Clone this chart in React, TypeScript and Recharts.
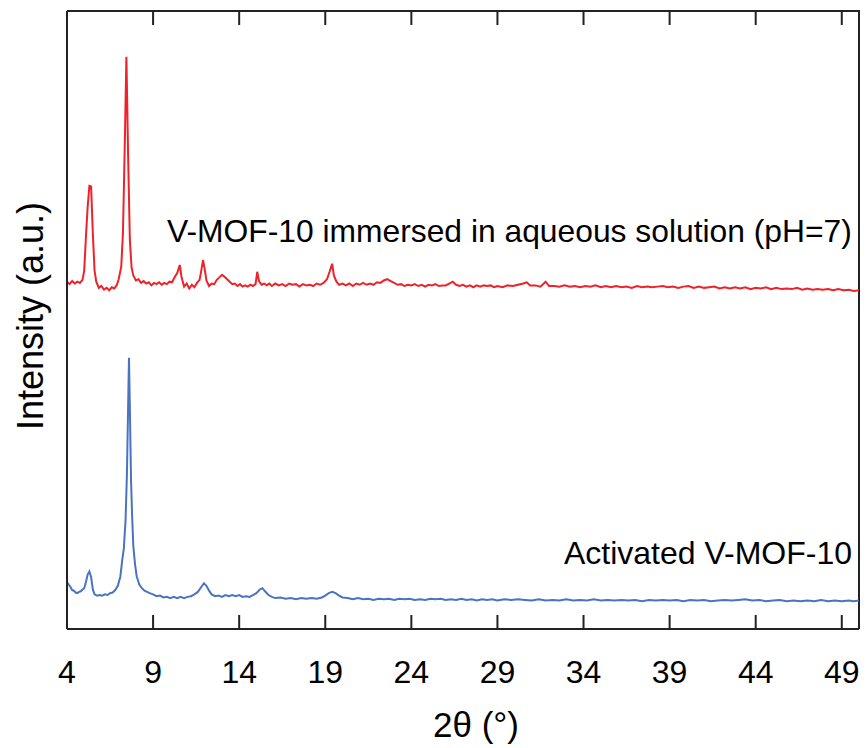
import React from "react";
import { LineChart, Line, XAxis, YAxis, Customized } from "recharts";

// 2θ (degrees) and intensity (a.u., stacked) for V-MOF-10 immersed in aqueous solution (pH=7)
const immersedTheta = [
  4.0, 4.15, 4.3, 4.45, 4.6, 4.75, 4.9, 5.0, 5.1, 5.2, 5.3, 5.4, 5.5, 5.6, 5.7, 5.85, 6.0, 6.15, 6.3, 6.45,
  6.6, 6.75, 6.9, 7.0, 7.15, 7.25, 7.35, 7.45, 7.55, 7.65, 7.75, 7.85, 8.0, 8.15, 8.3, 8.45, 8.6, 8.75, 8.9,
  9.05, 9.2, 9.35, 9.5, 9.65, 9.8, 9.95, 10.1, 10.25, 10.4, 10.55, 10.65, 10.8, 10.95, 11.1, 11.25, 11.4,
  11.55, 11.7, 11.8, 11.9, 12.0, 12.1, 12.25, 12.4, 12.55, 12.7, 12.85, 13.0, 13.15, 13.3, 13.45, 13.6,
  13.75, 13.9, 14.05, 14.2, 14.35, 14.5, 14.65, 14.8, 14.95, 15.05, 15.15, 15.3, 15.45, 15.6, 15.75, 15.9,
  16.1, 16.3, 16.5, 16.7, 16.9, 17.1, 17.3, 17.5, 17.7, 17.9, 18.1, 18.3, 18.5, 18.7, 18.9, 19.1, 19.25,
  19.4, 19.5, 19.65, 19.8, 20.0, 20.2, 20.4, 20.6, 20.8, 21.0, 21.2, 21.4, 21.6, 21.8, 22.0, 22.2, 22.4,
  22.6, 22.8, 23.0, 23.2, 23.4, 23.6, 23.8, 24.0, 24.2, 24.4, 24.6, 24.8, 25.0, 25.2, 25.4, 25.6, 25.8,
  26.0, 26.2, 26.4, 26.6, 26.8, 27.0, 27.2, 27.4, 27.6, 27.8, 28.0, 28.2, 28.4, 28.6, 28.8, 29.0, 29.3,
  29.6, 29.9, 30.2, 30.5, 30.7, 30.9, 31.2, 31.5, 31.8, 32.0, 32.3, 32.6, 32.9, 33.2, 33.5, 33.8, 34.1,
  34.4, 34.7, 35.0, 35.3, 35.6, 35.9, 36.2, 36.5, 36.8, 37.1, 37.4, 37.7, 38.0, 38.3, 38.6, 38.9, 39.2,
  39.5, 39.8, 40.1, 40.4, 40.7, 41.0, 41.3, 41.6, 41.9, 42.2, 42.5, 42.8, 43.1, 43.4, 43.7, 44.0, 44.3,
  44.6, 44.9, 45.2, 45.5, 45.8, 46.1, 46.4, 46.7, 47.0, 47.3, 47.6, 47.9, 48.2, 48.5, 48.8, 49.1, 49.4,
  49.7, 50.0,
];
const immersedIntensity = [
  56.2, 55.8, 56.3, 55.9, 56.2, 56.0, 56.5, 58.0, 63.5, 68.3, 71.7, 71.6, 64.0, 58.0, 56.2, 55.2, 55.5, 54.9,
  55.2, 54.8, 55.3, 55.1, 55.7, 56.6, 58.6, 64.1, 77.5, 92.6, 76.5, 63.0, 58.5, 57.2, 56.4, 56.6, 56.0, 56.3,
  55.9, 56.1, 55.6, 56.0, 55.8, 56.1, 55.7, 56.0, 55.8, 56.2, 56.1, 56.9, 57.6, 58.9, 57.0, 55.4, 55.9, 55.1,
  55.7, 55.3, 56.0, 56.5, 58.0, 59.7, 58.2, 56.4, 55.5, 55.9, 55.8, 56.5, 56.9, 57.3, 57.0, 56.6, 56.2, 55.8,
  55.9, 55.5, 55.8, 55.4, 55.6, 55.4, 55.7, 55.5, 55.8, 57.8, 56.3, 55.7, 55.9, 55.6, 55.9, 55.5,
  55.9, 55.6, 55.8, 55.5, 55.9, 55.7, 55.8, 55.4, 55.8, 55.6, 55.7, 55.5, 55.9, 55.7, 56.0, 56.6, 57.8,
  59.1, 57.2, 56.2, 55.7, 55.9, 55.6, 55.9, 55.5, 55.9, 55.7, 56.0, 55.7, 55.9, 55.7, 56.1, 56.0, 56.4,
  56.6, 56.3, 56.0, 55.7, 55.8, 55.5, 55.7, 55.6, 55.8, 55.5, 55.7, 55.4, 55.7, 55.6, 55.8, 55.5, 55.6,
  55.6, 55.9, 56.2, 55.7, 55.5, 55.7, 55.4, 55.6, 55.3, 55.6, 55.4, 55.6, 55.5, 55.6, 55.3, 55.5, 55.3,
  55.6, 55.5, 55.7, 55.9, 56.1, 55.6, 55.6, 55.4, 56.2, 55.5, 55.5, 55.4, 55.6, 55.4, 55.5, 55.3, 55.5,
  55.4, 55.6, 55.3, 55.5, 55.3, 55.5, 55.3, 55.4, 55.2, 55.5, 55.3, 55.4, 55.3, 55.4, 55.5, 55.3, 55.4,
  55.2, 55.4, 55.5, 55.2, 55.4, 55.2, 55.3, 55.4, 55.1, 55.3, 55.1, 55.3, 55.1, 55.3, 55.0, 55.2, 55.1,
  55.3, 55.0, 55.2, 55.0, 55.1, 55.0, 55.2, 54.9, 55.1, 54.9, 55.0, 54.9, 55.0, 54.8, 55.0, 54.8, 54.9,
  54.7, 54.8,
];

// 2θ (degrees) and intensity (a.u.) for activated V-MOF-10
const activatedTheta = [
  4.0, 4.1, 4.2, 4.3, 4.4, 4.5, 4.6, 4.7, 4.8, 4.9, 5.0, 5.1, 5.2, 5.3, 5.4, 5.5, 5.6, 5.75, 5.9, 6.05, 6.2,
  6.35, 6.5, 6.65, 6.8, 6.95, 7.1, 7.2, 7.3, 7.4, 7.48, 7.55, 7.6, 7.65, 7.72, 7.78, 7.85, 7.95, 8.05, 8.2,
  8.35, 8.5, 8.65, 8.8, 9.0, 9.2, 9.4, 9.6, 9.8, 10.0, 10.2, 10.4, 10.6, 10.8, 11.0, 11.2, 11.4, 11.6, 11.8,
  11.95, 12.1, 12.25, 12.4, 12.6, 12.8, 13.0, 13.2, 13.4, 13.6, 13.8, 14.0, 14.2, 14.4, 14.6, 14.8, 15.0,
  15.2, 15.35, 15.5, 15.7, 15.9, 16.1, 16.4, 16.7, 17.0, 17.3, 17.6, 17.9, 18.2, 18.5, 18.8, 19.0, 19.2,
  19.4, 19.6, 19.8, 20.0, 20.3, 20.6, 20.9, 21.2, 21.5, 21.8, 22.1, 22.4, 22.7, 23.0, 23.3, 23.6, 23.9,
  24.2, 24.5, 24.8, 25.1, 25.4, 25.7, 26.0, 26.3, 26.6, 26.9, 27.2, 27.5, 27.8, 28.1, 28.4, 28.7, 29.0,
  29.4, 29.8, 30.2, 30.6, 31.0, 31.4, 31.8, 32.2, 32.6, 33.0, 33.4, 33.8, 34.2, 34.6, 35.0, 35.4, 35.8,
  36.2, 36.6, 37.0, 37.4, 37.8, 38.2, 38.6, 39.0, 39.4, 39.8, 40.2, 40.6, 41.0, 41.4, 41.8, 42.2, 42.6,
  43.0, 43.4, 43.8, 44.2, 44.6, 45.0, 45.4, 45.8, 46.2, 46.6, 47.0, 47.4, 47.8, 48.2, 48.6, 49.0, 49.4,
  49.7, 50.0,
];
const activatedIntensity = [
  7.6, 7.2, 6.8, 6.3, 6.2, 5.9, 5.8, 6.0, 6.1, 6.4, 6.6, 7.6, 8.8, 9.3, 8.4, 6.4, 5.6, 5.4, 5.5, 5.4, 5.6,
  5.5, 5.8, 5.9, 6.3, 7.0, 8.5, 11.0, 13.0, 17.5, 25.0, 36.0, 43.9, 36.0, 24.0, 18.5, 13.5, 10.5, 8.5, 7.2,
  6.6, 6.2, 6.0, 5.8, 5.6, 5.3, 5.4, 5.1, 5.2, 5.0, 5.2, 5.0, 5.2, 5.0, 5.2, 5.3, 5.6, 6.0, 6.8,
  7.4, 7.0, 6.2, 5.6, 5.3, 5.4, 5.2, 5.5, 5.3, 5.5, 5.3, 5.5, 5.2, 5.3, 5.2, 5.5, 5.8,
  6.4, 6.6, 6.1, 5.5, 5.2, 5.0, 5.1, 4.9, 5.0, 4.8, 5.0, 4.9, 5.0, 4.9, 5.1, 5.4, 5.8,
  6.0, 5.8, 5.4, 5.1, 5.0, 4.8, 5.0, 4.8, 4.9, 4.7, 4.9, 4.8, 4.9, 4.7, 4.9, 4.8, 4.9,
  4.7, 4.8, 4.7, 4.9, 4.8, 4.9, 4.7, 4.8, 4.7, 4.9, 4.7, 4.8, 4.6, 4.8, 4.7, 4.8, 4.6,
  4.8, 4.7, 4.8, 4.7, 4.6, 4.8, 4.6, 4.7, 4.6, 4.8, 4.6, 4.7, 4.6, 4.8, 4.6, 4.7, 4.6,
  4.7, 4.6, 4.7, 4.5, 4.7, 4.6, 4.7, 4.6, 4.7, 4.5, 4.7, 4.6, 4.7, 4.5, 4.6, 4.7, 4.6,
  4.7, 4.8, 4.6, 4.7, 4.5, 4.6, 4.7, 4.5, 4.6, 4.5, 4.6, 4.5, 4.7, 4.5, 4.6, 4.5, 4.6,
  4.5, 4.6,
];

const xTicks = [4, 9, 14, 19, 24, 29, 34, 39, 44, 49];
const immersedLabel = "V-MOF-10 immersed in aqueous solution (pH=7)";
const activatedLabel = "Activated V-MOF-10";
const xTitle = "2θ (°)";
const yTitle = "Intensity (a.u.)";

const X_MIN = 4;
const X_MAX = 50;
const Y_MIN = 0;
const Y_MAX = 100;
const TICK_LEN = 2.27; // inward tick length, in intensity units (≈14 px)

const CHART_W = 868;
const CHART_H = 748;
const MARGIN = { top: 11, right: 9, bottom: 0, left: 0 };
const Y_AXIS_W = 67;
const X_AXIS_H = 119;

const immersedData = immersedTheta.map((t, i) => ({ t, v: immersedIntensity[i] }));
const activatedData = activatedTheta.map((t, i) => ({ t, v: activatedIntensity[i] }));

// frame (top + right edges) and inward tick marks, drawn through the chart's own scales
const frameData = [
  { t: X_MIN, v: Y_MAX },
  { t: X_MAX, v: Y_MAX },
  { t: X_MAX, v: Y_MIN },
];
const bottomTickData = xTicks.map((t) => [
  { t, v: Y_MIN },
  { t, v: Y_MIN + TICK_LEN },
]);
const topTickData = xTicks.map((t) => [
  { t, v: Y_MAX },
  { t, v: Y_MAX - TICK_LEN },
]);

const FONT = "'Liberation Sans', Arial, sans-serif";
const AXIS = "#222222";

const Texts = () => (
  <g>
    <text x={167} y={242} fontSize={31.8} fontFamily={FONT} fill="#000">{immersedLabel}</text>
    <text x={852} y={564} fontSize={32} fontFamily={FONT} fill="#000" textAnchor="end">{activatedLabel}</text>
    <text x={476} y={737} fontSize={35} fontFamily={FONT} fill="#000" textAnchor="middle">{xTitle}</text>
    <text x={43} y={316} fontSize={36} fontFamily={FONT} fill="#000" textAnchor="middle" transform="rotate(-90 43 316)">{yTitle}</text>
  </g>
);

export default function App() {
  return (
    <div style={{ position: "absolute", left: 0, top: 0, width: CHART_W, height: CHART_H, background: "#fff" }}>
      <LineChart width={CHART_W} height={CHART_H} margin={MARGIN}>
        <XAxis
          type="number"
          dataKey="t"
          domain={[X_MIN, X_MAX]}
          ticks={xTicks}
          height={X_AXIS_H}
          tickLine={false}
          tickSize={0}
          tickMargin={31}
          stroke={AXIS}
          strokeWidth={2}
          tick={{ fill: "#000", fontSize: 32, fontFamily: FONT }}
          interval={0}
        />
        <YAxis type="number" domain={[Y_MIN, Y_MAX]} width={Y_AXIS_W} tick={false} tickLine={false} stroke={AXIS} strokeWidth={2} />
        <Line
          data={frameData}
          dataKey="v"
          type="linear"
          stroke={AXIS}
          strokeWidth={2}
          dot={false}
          activeDot={false}
          isAnimationActive={false}
        />
        {bottomTickData.map((d, i) => (
          <Line
            key={"bt" + i}
            data={d}
            dataKey="v"
            type="linear"
            stroke={AXIS}
            strokeWidth={2}
            dot={false}
            activeDot={false}
            isAnimationActive={false}
          />
        ))}
        {topTickData.map((d, i) => (
          <Line
            key={"tt" + i}
            data={d}
            dataKey="v"
            type="linear"
            stroke={AXIS}
            strokeWidth={2}
            dot={false}
            activeDot={false}
            isAnimationActive={false}
          />
        ))}
        <Line
          data={immersedData}
          dataKey="v"
          type="linear"
          stroke="#ee232a"
          strokeWidth={2}
          dot={false}
          isAnimationActive={false}
        />
        <Line
          data={activatedData}
          dataKey="v"
          type="linear"
          stroke="#4a73c2"
          strokeWidth={2}
          dot={false}
          isAnimationActive={false}
        />
        <Customized component={Texts} />
      </LineChart>
    </div>
  );
}
